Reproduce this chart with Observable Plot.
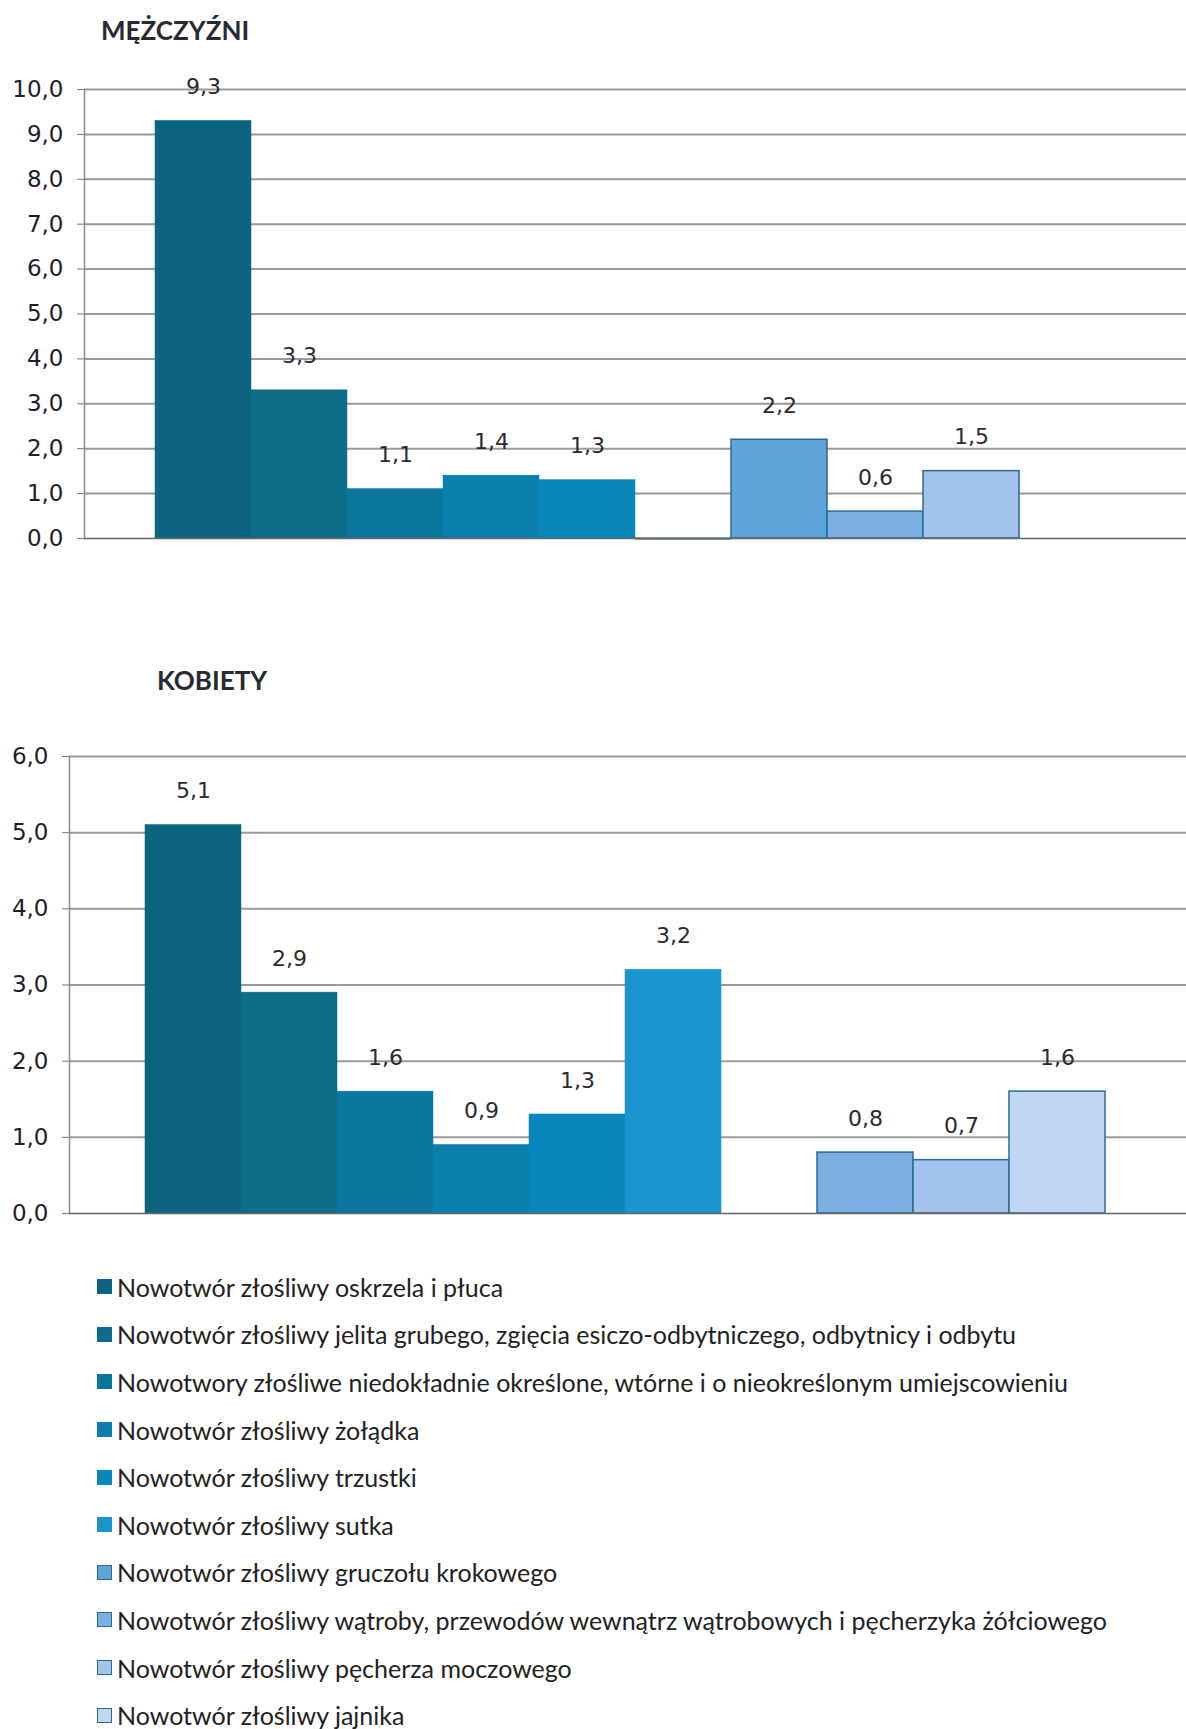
<!DOCTYPE html>
<html>
<head>
<meta charset="utf-8">
<script src="https://cdn.jsdelivr.net/npm/d3@7"></script>
<script src="https://cdn.jsdelivr.net/npm/@observablehq/plot@0.6"></script>
<style>
  html, body { margin: 0; padding: 0; background: #fff; overflow: hidden; }
  body { width: 1186px; height: 1729px; position: relative; }
  .title { position: absolute; font-family: Lato, "Open Sans", sans-serif; font-weight: bold; font-size: 26px; color: #262a33; }
  .chart { position: absolute; left: 0; }
  #legend { position: absolute; left: 97px; top: 1263px; font-family: Lato, "Open Sans", sans-serif; font-size: 25px; color: #222; }
  .item { height: 47.6px; display: flex; align-items: center; white-space: nowrap; }
  .sw { width: 15px; height: 15px; margin-right: 5px; box-sizing: border-box; flex: none; }
</style>
</head>
<body>
<div class="title" style="left:101px; top:14px;">MĘŻCZYŹNI</div>
<div class="chart" id="men" style="top:60px;"></div>
<div class="title" style="left:157px; top:664px;">KOBIETY</div>
<div class="chart" id="women" style="top:730px;"></div>
<div id="legend"></div>
<script>
const categories = [
  "Nowotwór złośliwy oskrzela i płuca",
  "Nowotwór złośliwy jelita grubego, zgięcia esiczo-odbytniczego, odbytnicy i odbytu",
  "Nowotwory złośliwe niedokładnie określone, wtórne i o nieokreślonym umiejscowieniu",
  "Nowotwór złośliwy żołądka",
  "Nowotwór złośliwy trzustki",
  "Nowotwór złośliwy sutka",
  "Nowotwór złośliwy gruczołu krokowego",
  "Nowotwór złośliwy wątroby, przewodów wewnątrz wątrobowych i pęcherzyka żółciowego",
  "Nowotwór złośliwy pęcherza moczowego",
  "Nowotwór złośliwy jajnika"
];
const colors = ["#0c6480", "#0d6d8b", "#0b779e", "#0a7fac", "#0a87ba", "#1a95ce", "#5ea4d9", "#7bafe1", "#a3c3ec", "#c0d6f3"];
const menValues   = [9.3, 3.3, 1.1, 1.4, 1.3, 0, 2.2, 0.6, 1.5, null];
const womenValues = [5.1, 2.9, 1.6, 0.9, 1.3, 3.2, null, 0.8, 0.7, 1.6];
const menTicks   = [0, 1, 2, 3, 4, 5, 6, 7, 8, 9, 10];
const womenTicks = [0, 1, 2, 3, 4, 5, 6];

const fmt = v => v.toFixed(1).replace(".", ",");
const outline = "#2a6b93";

function chart(values, ticks, cfg) {
  const data = categories.map((c, i) => ({cat: c, value: values[i], i})).filter(d => d.value != null);
  const yMax = ticks[ticks.length - 1];
  return Plot.plot({
    width: 1186,
    height: cfg.height,
    marginLeft: cfg.marginLeft,
    marginRight: 0,
    marginTop: cfg.marginTop,
    marginBottom: cfg.marginBottom,
    style: {fontFamily: "'DejaVu Sans', Verdana, sans-serif", fontSize: "22px", color: "#1e1e28", background: "transparent"},
    x: {domain: categories, paddingInner: 0, paddingOuter: cfg.pad, align: cfg.align, axis: null},
    y: {domain: [0, yMax], label: null},
    marks: [
      Plot.gridY(ticks.filter(t => t > 0), {stroke: "#9a9a9a", strokeOpacity: 1, strokeWidth: 2}),
      Plot.frame({anchor: "left", stroke: "#8a8a8a", strokeWidth: 1.5}),
      Plot.axisY(ticks, {tickFormat: fmt, tickSize: 7, tickPadding: 14, fontSize: 23, stroke: "#777", label: null}),
      Plot.barY(data.filter(d => d.value > 0), {
        x: "cat", y: "value",
        fill: d => colors[d.i],
        stroke: d => d.i >= 6 ? outline : colors[d.i],
        strokeWidth: d => d.i >= 6 ? 1.5 : 0.5
      }),
      Plot.tickY(data.filter(d => d.value === 0), {x: "cat", y: "value", stroke: "#1f5f80", strokeWidth: 2}),
      Plot.ruleY([0], {stroke: "#666", strokeWidth: 1.5}),
      Plot.text(data.filter(d => d.value > 0), {
        x: "cat", y: "value", text: d => fmt(d.value),
        dy: -34, fontSize: 22, fill: "#2a2a32"
      })
    ]
  });
}

document.getElementById("men").append(chart(menValues, menTicks, {
  height: 490, marginLeft: 84, marginTop: 29, marginBottom: 12, pad: 0.72, align: 0.5
}));
document.getElementById("women").append(chart(womenValues, womenTicks, {
  height: 495, marginLeft: 69, marginTop: 26, marginBottom: 12, pad: 0.795, align: 0.484
}));

const legend = document.getElementById("legend");
categories.forEach((c, i) => {
  const item = document.createElement("div");
  item.className = "item";
  const sw = document.createElement("span");
  sw.className = "sw";
  sw.style.background = colors[i];
  sw.style.border = "1px solid " + (i >= 6 ? outline : colors[i]);
  const tx = document.createElement("span");
  tx.textContent = c;
  item.append(sw, tx);
  legend.append(item);
});
</script>
</body>
</html>
